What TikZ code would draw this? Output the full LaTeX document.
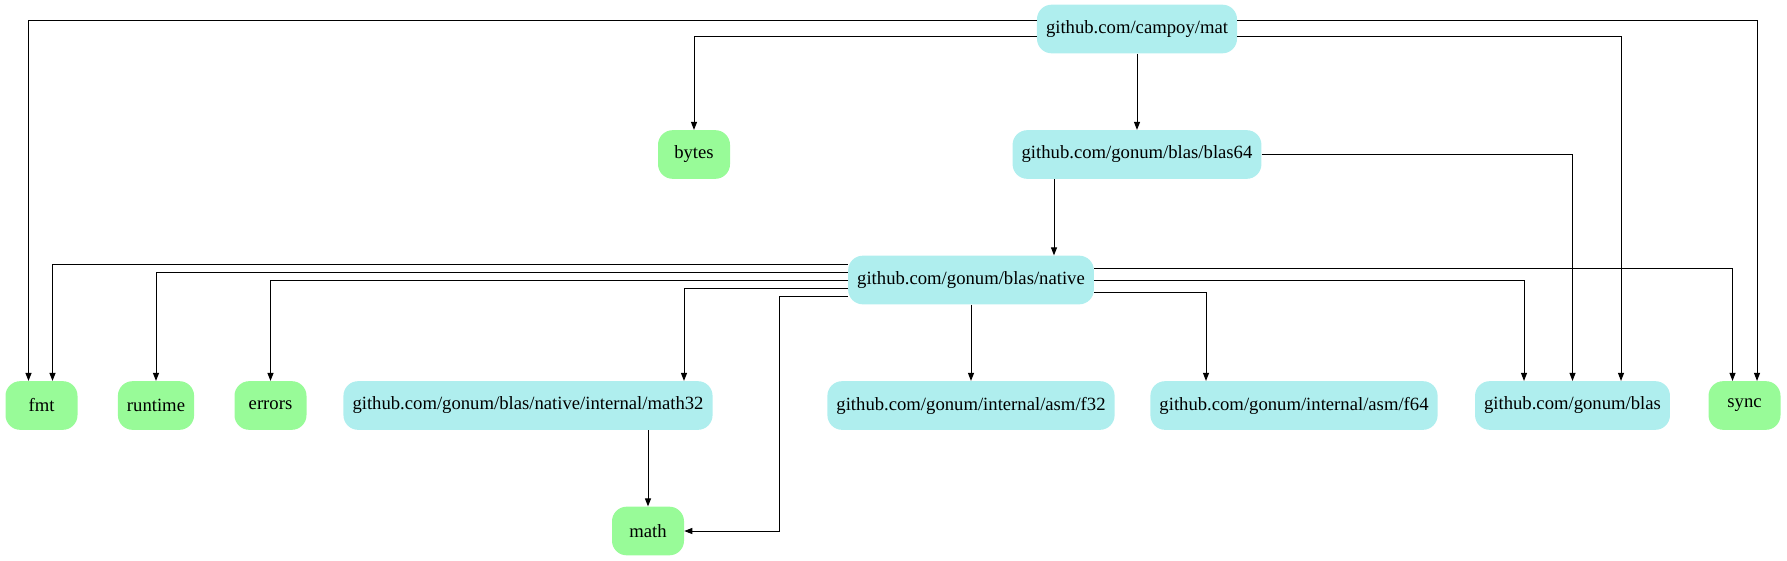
\documentclass[tikz,border=0pt]{standalone}
\usepackage{fontspec}
\setmainfont{Liberation Serif}
\usepackage{xcolor}
\usetikzlibrary{arrows.meta, calc}

\definecolor{extcol}{HTML}{AFEEEE}
\definecolor{stdcol}{HTML}{98FB98}

\begin{document}
\begin{tikzpicture}[
    x=0.75pt, y=-0.75pt,
    pkg/.style={rectangle, rounded corners=11pt, minimum height=36.5pt, minimum width=54pt, inner xsep=6.8pt, font=\fontsize{14}{16}\selectfont},
    ext/.style={pkg, fill=extcol},
    std/.style={pkg, fill=stdcol},
    arrow/.style={-{Triangle[length=6pt, width=4.5pt]}, line width=0.75pt}
]
\useasboundingbox (0,0) rectangle (1787,560);

% Top packages
\node[ext] (mat) at (1137,29) {github.com/campoy/mat};
\node[std] (bytes) at (694,154.5) {bytes};
\node[ext] (blas64) at (1137,154.5) {github.com/gonum/blas/blas64};
\node[ext] (native) at (971,280) {github.com/gonum/blas/native};

% Leaf packages
\node[std] (fmt) at (41.5,405.5) {fmt};
\node[std] (runtime) at (156,405.5) {runtime};
\node[std] (errors) at (270.5,405.5) {errors};
\node[ext] (math32) at (528,405.5) {github.com/gonum/blas/native/internal/math32};
\node[ext] (f32) at (971,405.5) {github.com/gonum/internal/asm/f32};
\node[ext] (f64) at (1294,405.5) {github.com/gonum/internal/asm/f64};
\node[ext] (blas) at (1572.5,405.5) {github.com/gonum/blas};
\node[std] (sync) at (1744.5,405.5) {sync};
\node[std] (math) at (648,531) {math};

% Imports of mat
\draw[arrow] ($(mat.west)+(0,-8)$) -| ($(fmt.north)+(-13,0)$);
\draw[arrow] ($(mat.west)+(0,8)$) -| (bytes.north);
\draw[arrow] (mat) -- (blas64);
\draw[arrow] ($(mat.east)+(0,-8)$) -| ($(sync.north)+(12.5,0)$);
\draw[arrow] ($(mat.east)+(0,8)$) -| ($(blas.north)+(48.5,0)$);

% Imports of blas64
\draw[arrow] (blas64.east) -| (blas.north);
\draw[arrow] ($(blas64.south)+(-83,0)$) -- ($(native.north)+(83,0)$);

% Imports of native
\draw[arrow] ($(native.west)+(0,-16)$) -| ($(fmt.north)+(11,0)$);
\draw[arrow] ($(native.west)+(0,-8)$) -| (runtime.north);
\draw[arrow] (native.west) -| (errors.north);
\draw[arrow] ($(native.west)+(0,8)$) -| ($(math32.north)+(156,0)$);
\draw[arrow] ($(native.west)+(0,16)$) -| ($(math.east)+(95,0)$) -- (math.east);
\draw[arrow] (native) -- (f32);
\draw[arrow] ($(native.east)+(0,-12)$) -| ($(sync.north)+(-12,0)$);
\draw[arrow] (native.east) -| ($(blas.north)+(-48.5,0)$);
\draw[arrow] ($(native.east)+(0,12)$) -| ($(f64.north)+(-88,0)$);

% Imports of math32
\draw[arrow] ($(math32.south)+(120,0)$) -- (math.north);

\end{tikzpicture}
\end{document}
